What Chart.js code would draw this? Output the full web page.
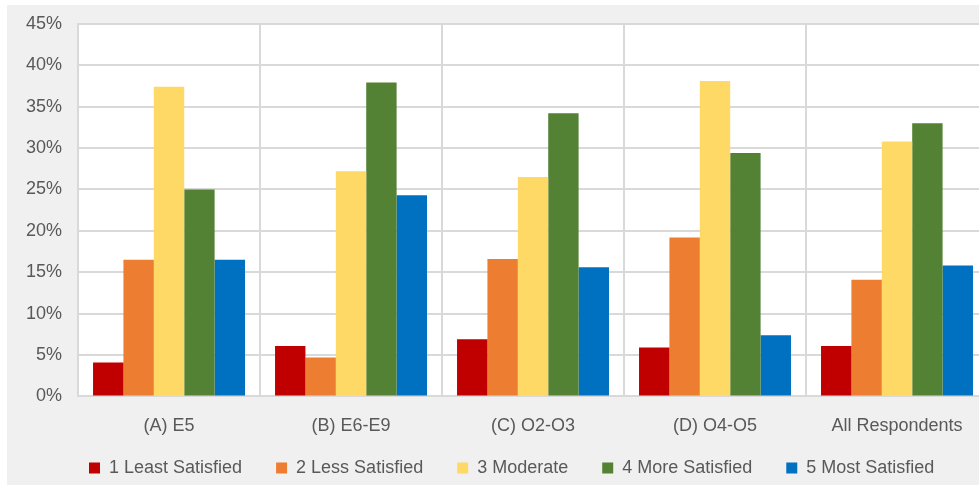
<!DOCTYPE html>
<html>
<head>
<meta charset="utf-8">
<script src="https://cdn.jsdelivr.net/npm/chart.js@4.4.1/dist/chart.umd.min.js"></script>
<style>
  html, body { margin: 0; padding: 0; background: #ffffff; overflow: hidden; }
  #wrap { position: absolute; left: 7px; top: 5px; width: 981px; height: 480px; background: #f0f0f0; overflow: hidden; }
  #inner { position: relative; top: -8px; width: 981px; height: 521px; }
</style>
</head>
<body>
<div id="wrap"><div id="inner"><canvas id="chart"></canvas></div></div>
<script>
// Categories and series (percent)
const categories = ['(A) E5', '(B) E6-E9', '(C) O2-O3', '(D) O4-O5', 'All Respondents'];
const leastSatisfied = [4.1, 6.1, 6.9, 5.9, 6.1];
const lessSatisfied = [16.5, 4.7, 16.6, 19.2, 14.1];
const moderate = [37.4, 27.2, 26.5, 38.1, 30.8];
const moreSatisfied = [25.0, 37.9, 34.2, 29.4, 33.0];
const mostSatisfied = [16.5, 24.3, 15.6, 7.4, 15.8];
const seriesNames = ['1 Least Satisfied', '2 Less Satisfied', '3 Moderate', '4 More Satisfied', '5 Most Satisfied'];
const seriesColors = ['#c00000', '#ed7d31', '#ffd966', '#548235', '#0070c0'];

const textColor = '#595959';
const fontFamily = "'Liberation Sans', Arial, sans-serif";

// white plot area on gray background
const plotBg = {
    id: 'plotBg',
    beforeDraw(chart) {
        const a = chart.chartArea;
        const ctx = chart.ctx;
        ctx.save();
        ctx.fillStyle = '#ffffff';
        ctx.fillRect(a.left, a.top, a.right - a.left, a.bottom - a.top);
        ctx.restore();
    }
};

// nudge the legend box (big label padding pushes it too far down)
const legendNudge = {
    id: 'legendNudge',
    afterLayout(chart) {
        const lg = chart.legend;
        const dx = 45, dy = -31;
        lg.left += dx; lg.right += dx;
        lg.top += dy; lg.bottom += dy;
    }
};

const allSeries = [leastSatisfied, lessSatisfied, moderate, moreSatisfied, mostSatisfied];

new Chart(document.getElementById('chart'), {
    type: 'bar',
    data: {
        labels: categories,
        datasets: allSeries.map((vals, i) => ({
            label: seriesNames[i],
            data: vals,
            backgroundColor: seriesColors[i],
            borderWidth: 0,
            barPercentage: 1.0,
            categoryPercentage: 0.835
        }))
    },
    options: {
        responsive: true,
        maintainAspectRatio: false,
        animation: false,
        layout: { padding: { left: 3, right: 0, top: 11, bottom: 0 } },
        plugins: {
            legend: {
                position: 'bottom',
                align: 'start',
                labels: {
                    color: textColor,
                    font: { family: fontFamily, size: 18 },
                    boxWidth: 11,
                    boxHeight: 11,
                    padding: 34
                }
            },
            tooltip: { enabled: false }
        },
        scales: {
            x: {
                grid: { color: '#d9d9d9', lineWidth: 2, offset: true, drawTicks: false },
                border: { color: '#d9d9d9', width: 2 },
                ticks: { color: textColor, font: { family: fontFamily, size: 18 }, padding: 19 }
            },
            y: {
                min: 0,
                max: 45,
                grid: { color: '#d9d9d9', lineWidth: 2, drawTicks: false },
                border: { color: '#d9d9d9', width: 2 },
                ticks: {
                    stepSize: 5,
                    color: textColor,
                    font: { family: fontFamily, size: 18 },
                    padding: 16,
                    callback: v => v + '%'
                }
            }
        }
    },
    plugins: [plotBg, legendNudge]
});
</script>
</body>
</html>
